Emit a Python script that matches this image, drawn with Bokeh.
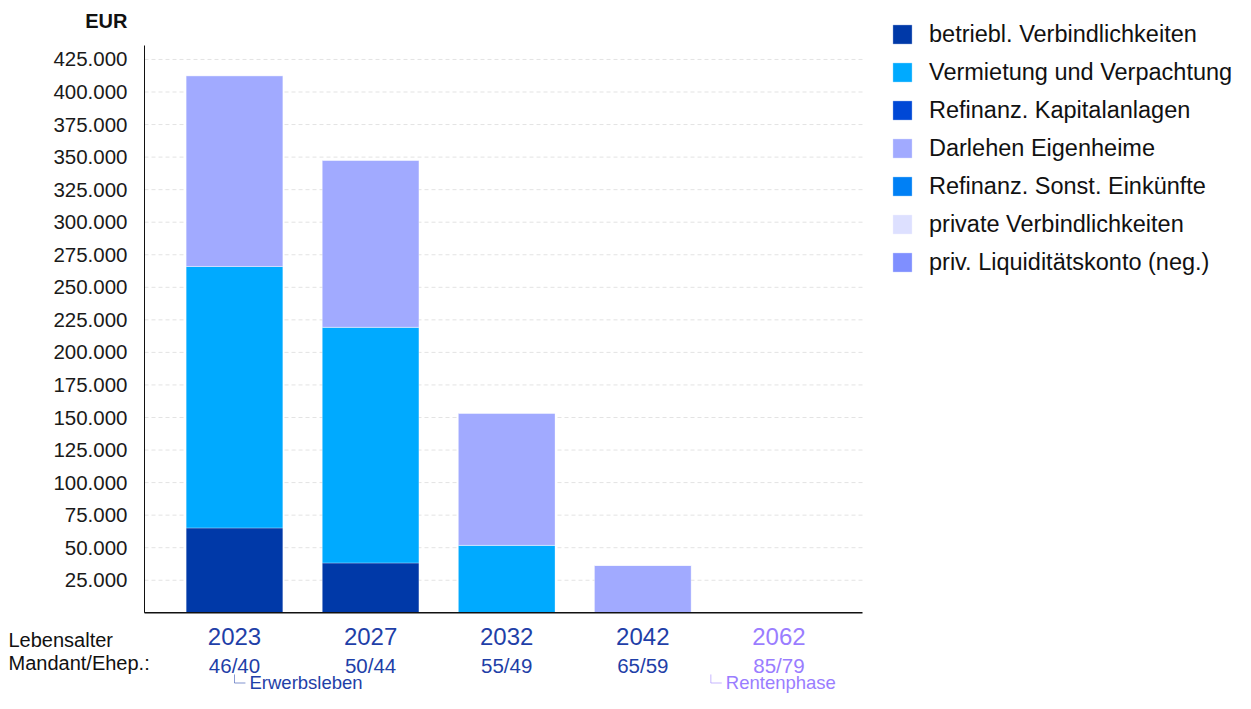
from bokeh.plotting import figure
from bokeh.models import Range1d, Legend, LegendItem, Label, PolyAnnotation, ColumnDataSource
from bokeh.core.properties import value
from bokeh.embed import file_html
from bokeh.resources import INLINE

# ---------------- data ----------------
years = ["2023", "2027", "2032", "2042", "2062"]
ages = ["46/40", "50/44", "55/49", "65/59", "85/79"]
retired = [False, False, False, False, True]

series_names = [
    "betriebl. Verbindlichkeiten",
    "Vermietung und Verpachtung",
    "Refinanz. Kapitalanlagen",
    "Darlehen Eigenheime",
    "Refinanz. Sonst. Einkünfte",
    "private Verbindlichkeiten",
    "priv. Liquiditätskonto (neg.)",
]
betriebl = [65200, 38300, 0, 0, 0]
vermietung = [200800, 181000, 51800, 0, 0]
refinanz_kap = [0, 0, 0, 0, 0]
darlehen = [146600, 128400, 101600, 36500, 0]
refinanz_sonst = [0, 0, 0, 0, 0]
private_verb = [0, 0, 0, 0, 0]
liquiditaet = [0, 0, 0, 0, 0]

series_colors = ["#0039A8", "#00AAFF", "#0048D6", "#A1AAFF", "#0080F5", "#DDE0FF", "#7F8FFF"]

y_ticks = [25000, 50000, 75000, 100000, 125000, 150000, 175000, 200000, 225000,
           250000, 275000, 300000, 325000, 350000, 375000, 400000, 425000]
y_tick_labels = ["25.000", "50.000", "75.000", "100.000", "125.000", "150.000", "175.000",
                 "200.000", "225.000", "250.000", "275.000", "300.000", "325.000", "350.000",
                 "375.000", "400.000", "425.000"]

phases = [("Erwerbsleben", 0, "#1F3FA8"), ("Rentenphase", 3.5, "#9A7DFF")]

FONT = "Liberation Sans"
ACTIVE_COLOR = "#1F3FA8"
RETIRED_COLOR = "#9A7DFF"

# ---------------- layout (pixels on the canvas) ----------------
W, H = 1235, 693
AX_LEFT_PX, AX_RIGHT_PX, AX_TOP_PX, AX_BOTTOM_PX = 144, 862, 45, 612.3
CAT0_PX, CAT_STEP_PX = 234, 136.1
PX_PER_UNIT = 32.55 / 25000.0

x_start = (0 - CAT0_PX) / CAT_STEP_PX
x_end = (W - CAT0_PX) / CAT_STEP_PX
y_start = -(H - AX_BOTTOM_PX) / PX_PER_UNIT
y_end = AX_BOTTOM_PX / PX_PER_UNIT

ax_x0 = (AX_LEFT_PX - CAT0_PX) / CAT_STEP_PX
ax_x1 = (AX_RIGHT_PX - CAT0_PX) / CAT_STEP_PX
ax_ytop = (AX_BOTTOM_PX - AX_TOP_PX) / PX_PER_UNIT

p = figure(width=W, height=H,
           x_range=Range1d(x_start, x_end), y_range=Range1d(y_start, y_end),
           x_axis_type=None, y_axis_type=None,
           output_backend="svg", toolbar_location=None,
           min_border_left=0, min_border_right=0, min_border_top=0, min_border_bottom=0)
p.outline_line_color = None
p.background_fill_color = "white"
p.border_fill_color = "white"

# grid lines
p.segment(x0=ax_x0, x1=ax_x1, y0=y_ticks, y1=y_ticks,
          line_color="#e3e3e3", line_dash="4 3", line_width=1)

# stacked bars
keys = ["s%d" % i for i in range(len(series_names))]
data = dict(x=list(range(len(years))))
for k, vals in zip(keys, [betriebl, vermietung, refinanz_kap, darlehen, refinanz_sonst, private_verb, liquiditaet]):
    data[k] = vals
src = ColumnDataSource(data)
renderers = p.vbar_stack(keys, x="x", width=0.71, source=src,
                         fill_color=series_colors, line_color="white", line_alpha=0.3, line_width=1)

# axis lines
p.segment(x0=[ax_x0], y0=[0], x1=[ax_x0], y1=[ax_ytop], line_color="#111111", line_width=1)
p.segment(x0=[ax_x0], y0=[0], x1=[ax_x1], y1=[0], line_color="#111111", line_width=1.5)

# y tick labels
p.text(x=ax_x0, y=y_ticks, text=y_tick_labels, x_offset=-17,
       text_align="right", text_baseline="middle", text_font=value(FONT),
       text_font_size="20.5px", text_color="#1a1a1a")

# unit label
p.add_layout(Label(x=127, y=H - 20.5, x_units="screen", y_units="screen", text="EUR",
                   text_align="right", text_baseline="middle", text_font=FONT,
                   text_font_size="20px", text_font_style="bold", text_color="#111111"))

# legend
ITEM_H, SPACING = 28, 10
legend_h = len(series_names) * ITEM_H + (len(series_names) - 1) * SPACING
items = [LegendItem(label=n, renderers=[r]) for n, r in zip(series_names, renderers)]
legend = Legend(items=items, location=(890, H - 20 - legend_h),
                label_text_font=FONT, label_text_font_size="23.5px", label_text_color="#111111",
                glyph_width=24, glyph_height=24, label_standoff=15, label_height=ITEM_H,
                spacing=SPACING, padding=0, margin=0,
                border_line_alpha=0, background_fill_alpha=0)
p.add_layout(legend)

# category labels
for i, (yr, age) in enumerate(zip(years, ages)):
    col = RETIRED_COLOR if retired[i] else ACTIVE_COLOR
    p.add_layout(Label(x=i, y=H - 635.5, x_units="data", y_units="screen", text=yr,
                       text_align="center", text_baseline="middle", text_font=FONT,
                       text_font_size="24px", text_color=col))
    p.add_layout(Label(x=i, y=H - 664.5, x_units="data", y_units="screen", text=age,
                       text_align="center", text_baseline="middle", text_font=FONT,
                       text_font_size="20.5px", text_color=col))

p.add_layout(Label(x=8, y=H - 639.5, x_units="screen", y_units="screen", text="Lebensalter",
                   text_align="left", text_baseline="middle", text_font=FONT,
                   text_font_size="20px", text_color="#111111"))
p.add_layout(Label(x=8, y=H - 662, x_units="screen", y_units="screen", text="Mandant/Ehep.:",
                   text_align="left", text_baseline="middle", text_font=FONT,
                   text_font_size="20px", text_color="#111111"))

# phase markers
for name, xpos, col in phases:
    p.add_layout(PolyAnnotation(xs=[xpos, xpos, xpos + 0.08, xpos],
                                ys=[H - 674, H - 682.5, H - 682.5, H - 682.5],
                                xs_units="data", ys_units="screen",
                                fill_alpha=0, line_color=col, line_width=1))
    p.add_layout(Label(x=xpos, y=H - 681.5, x_offset=15, x_units="data", y_units="screen", text=name,
                       text_align="left", text_baseline="middle", text_font=FONT,
                       text_font_size="18.5px", text_color=col))

open("out.html", "w").write(file_html(p, INLINE))
